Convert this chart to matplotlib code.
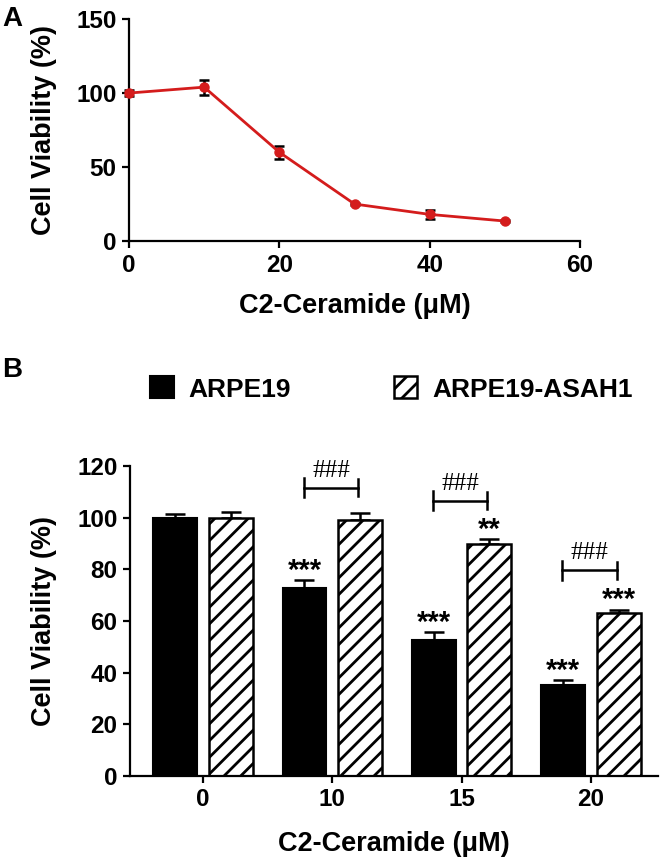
#Figura: viabilidad celular con C2-Ceramida (panel A curva, panel B barras)

#Importación de librerias
from matplotlib import pyplot as plt
import numpy as np

plt.rcParams['font.family'] = ['Liberation Sans', 'DejaVu Sans']
plt.rcParams['hatch.linewidth'] = 2.0

# Datos panel A
dosis_a = [0, 10, 20, 30, 40, 50]
viab_a = [100, 104, 60, 25, 18, 13.5]
err_a = [2, 5, 4.3, 0.5, 2.8, 0.5]

# Datos panel B
grupos_b = ['0', '10', '15', '20']
arpe19 = [100, 72.8, 52.8, 35.4]
arpe19_err = [1.5, 3, 2.9, 1.6]
asah1 = [99.8, 99, 90, 63]
asah1_err = [2.3, 3, 1.8, 1.4]
estrellas_arpe = ['', '***', '***', '***']
estrellas_asah1 = ['', '', '**', '***']
corchetes = [None, 111.6, 106.6, 79.6]

fig = plt.figure(figsize=(6.67, 8.67), dpi=100)

# ---------------- Panel A ----------------
ax1 = fig.add_axes([0.1934, 0.722, 0.6762, 0.256])
ax1.errorbar(dosis_a, viab_a, yerr=err_a, fmt='none', ecolor='black',
             elinewidth=1.8, capsize=3.5, capthick=1.8, clip_on=False, zorder=3)
ax1.plot(dosis_a, viab_a, color='#d41c1c', linewidth=2, marker='o',
         markersize=6.5, clip_on=False, zorder=4)
ax1.set_xlim(0, 60)
ax1.set_ylim(0, 150)
ax1.set_xticks([0, 20, 40, 60])
ax1.set_yticks([0, 50, 100, 150])
ax1.set_xlabel('C2-Ceramide (μM)', fontsize=19.5, fontweight='bold', labelpad=12)
ax1.set_ylabel('Cell Viability (%)', fontsize=19.5, fontweight='bold')
ax1.yaxis.set_label_coords(-0.16, 0.5)

# ---------------- Panel B ----------------
ax2 = fig.add_axes([0.1949, 0.105, 0.7916, 0.3575])
x = np.arange(len(grupos_b))
ancho = 0.34
b1 = ax2.bar(x - 0.215, arpe19, ancho, color='black', edgecolor='black',
             linewidth=1.5, label='ARPE19', zorder=2)
b2 = ax2.bar(x + 0.215, asah1, ancho, color='white', edgecolor='black',
             linewidth=1.8, hatch='//', label='ARPE19-ASAH1', zorder=2)

# Barras de error (solo hacia arriba)
ax2.errorbar(x - 0.215, arpe19, yerr=[np.zeros(4), arpe19_err], fmt='none',
             ecolor='black', elinewidth=1.8, capsize=7, capthick=1.8, zorder=1)
ax2.errorbar(x + 0.215, asah1, yerr=[np.zeros(4), asah1_err], fmt='none',
             ecolor='black', elinewidth=1.8, capsize=7, capthick=1.8, zorder=1)

# Asteriscos
for i in range(len(grupos_b)):
    if estrellas_arpe[i]:
        ax2.text(x[i] - 0.215, arpe19[i] + arpe19_err[i] + 0.5, estrellas_arpe[i],
                 ha='center', va='baseline', fontsize=21, fontweight='bold')
    if estrellas_asah1[i]:
        ax2.text(x[i] + 0.215, asah1[i] + asah1_err[i] + 0.5, estrellas_asah1[i],
                 ha='center', va='baseline', fontsize=21, fontweight='bold')

# Corchetes ###
for i in range(len(grupos_b)):
    yc = corchetes[i]
    if yc is None:
        continue
    x0 = x[i] - 0.22
    x1 = x[i] + 0.2
    ax2.plot([x0, x1], [yc, yc], color='black', linewidth=1.8, clip_on=False)
    ax2.plot([x0, x0], [yc - 3.6, yc + 3.6], color='black', linewidth=1.8, clip_on=False)
    ax2.plot([x1, x1], [yc - 3.2, yc + 3.2], color='black', linewidth=1.8, clip_on=False)
    ax2.text((x0 + x1) / 2, yc + 6.6, '###', ha='center', va='center',
             fontsize=18, family=['Liberation Serif', 'DejaVu Serif'])

ax2.set_xlim(-0.565, 3.52)
ax2.set_ylim(0, 120)
ax2.set_xticks(x)
ax2.set_xticklabels(grupos_b)
ax2.set_yticks([0, 20, 40, 60, 80, 100, 120])
ax2.set_xlabel('C2-Ceramide (μM)', fontsize=19.5, fontweight='bold', labelpad=14)
ax2.set_ylabel('Cell Viability (%)', fontsize=19.5, fontweight='bold')
ax2.yaxis.set_label_coords(-0.138, 0.5)

# Leyenda
fig.legend(handles=[b1, b2], loc='center left', bbox_to_anchor=(150 / 667, 1 - 389 / 867),
           ncol=2, frameon=False, prop={'size': 19, 'weight': 'bold'},
           handlelength=0.9, handleheight=0.9, handletextpad=0.55,
           columnspacing=3.9, borderpad=0, borderaxespad=0)

# Estilo comun de ejes
for ax in [ax1, ax2]:
    ax.spines['top'].set_visible(False)
    ax.spines['right'].set_visible(False)
    ax.spines['left'].set_linewidth(1.6)
    ax.spines['bottom'].set_linewidth(1.6)
    ax.tick_params(direction='out', length=5, width=1.6, labelsize=17.5, pad=4)
    for lab in ax.get_xticklabels() + ax.get_yticklabels():
        lab.set_fontweight('bold')

# Letras de panel
fig.text(0.003, 1 - 6 / 867, 'A', fontsize=20, fontweight='bold', va='top', ha='left')
fig.text(0.003, 1 - 357 / 867, 'B', fontsize=20, fontweight='bold', va='top', ha='left')

plt.savefig('out.png', dpi=100)
